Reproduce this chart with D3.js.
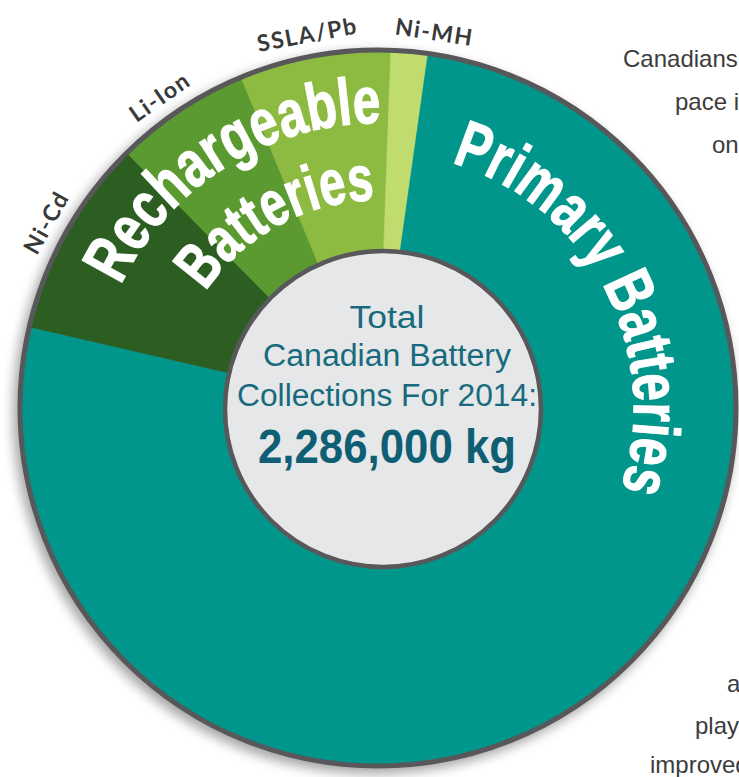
<!DOCTYPE html>
<html>
<head>
<meta charset="utf-8">
<script src="https://cdn.jsdelivr.net/npm/d3@7"></script>
<style>
  html, body { margin: 0; padding: 0; background: #ffffff; overflow: hidden; }
  svg { display: block; }
</style>
</head>
<body>
<svg id="chart" width="739" height="777"></svg>
<script>
// ---- data ----
const categories = ["Ni-Cd", "Li-Ion", "SSLA/Pb", "Ni-MH", "Primary"];
const valuesKg   = [206000, 140000, 156000, 38000, 1746000];
const groupNames = ["Rechargeable", "Batteries", "Primary Batteries"];
const centerLines = ["Total", "Canadian Battery", "Collections For 2014:"];
const totalLabel = "2,286,000 kg";
const sideText = ["Canadians", "pace is", "one", "a", "play", "improved"];

// ---- styles ----
const colors = ["#2c5e22", "#5b9a31", "#8dba41", "#c0dc6f", "#00968b"];
const cx = 378, cy = 408;
const rOuter = 358, rInner = 158;
const deg = Math.PI / 180;

const svg = d3.select("#chart");
const defs = svg.append("defs");
const f = defs.append("filter").attr("id", "shadow")
  .attr("x", "-20%").attr("y", "-20%").attr("width", "140%").attr("height", "140%");
f.append("feGaussianBlur").attr("stdDeviation", 6);

const g = svg.append("g").attr("transform", `translate(${cx},${cy})`);

// shadow
g.append("circle").attr("cx", -4).attr("cy", 5).attr("r", rOuter + 3)
  .attr("fill", "#000").attr("opacity", 0.35).attr("filter", "url(#shadow)");

const pie = d3.pie().sort(null).value(d => d)
  .startAngle(-77 * deg).endAngle(283 * deg);
const slices = pie(valuesKg);
const arc = d3.arc().innerRadius(rInner - 10).outerRadius(rOuter);

g.selectAll("path.slice").data(slices).join("path")
  .attr("class", "slice")
  .attr("d", arc)
  .attr("fill", (d, i) => colors[i])
  .attr("stroke", (d, i) => colors[i])
  .attr("stroke-width", 0.6);

// outer ring stroke
g.append("circle").attr("r", rOuter).attr("fill", "none")
  .attr("stroke", "#58585a").attr("stroke-width", 5);

// inner disc (slightly offset like the original artwork)
const ix = 5, iy = 1;
g.append("circle").attr("cx", ix).attr("cy", iy).attr("r", rInner)
  .attr("fill", "#e6e7e9")
  .attr("stroke", "#58585a").attr("stroke-width", 4.5);

// helper: clockwise arc path around the center
function arcPath(r, a0, a1) {
  const x0 = r * Math.sin(a0), y0 = -r * Math.cos(a0);
  const x1 = r * Math.sin(a1), y1 = -r * Math.cos(a1);
  const large = (a1 - a0) > Math.PI ? 1 : 0;
  return `M${x0},${y0} A${r},${r} 0 ${large} 1 ${x1},${y1}`;
}

// category labels outside the ring
const labelNudge = [0, -1.5 * deg, -0.5 * deg, 3.5 * deg];
slices.slice(0, 4).forEach((s, i) => {
  const a = (s.startAngle + s.endAngle) / 2 + labelNudge[i];
  const r = 372;
  g.append("text")
    .attr("transform", `translate(${r * Math.sin(a)},${-r * Math.cos(a)}) rotate(${a / deg})`)
    .attr("text-anchor", "middle")
    .attr("font-family", "Lato, 'DejaVu Sans', sans-serif")
    .attr("font-weight", 700)
    .attr("font-size", 23)
    .attr("letter-spacing", 1.5)
    .attr("fill", "#3a3a3a")
    .text(categories[i]);
});

// group titles along arcs
const rechStart = slices[0].startAngle, rechEnd = slices[3].endAngle;
const rechMid = (rechStart + rechEnd) / 2;
const primStart = slices[4].startAngle;
const groupDefs = [
  { text: groupNames[0], r: 285, center: rechMid + 2.5 * deg, len: 324, size: 66 },
  { text: groupNames[1], r: 208, center: rechMid + 6 * deg, len: 200, size: 64 },
  { text: groupNames[2], r: 256, center: primStart + 54.5 * deg, len: 410, size: 66 }
];
groupDefs.forEach((d, i) => {
  defs.append("path").attr("id", "gp" + i)
    .attr("d", arcPath(d.r, d.center - 90 * deg, d.center + 90 * deg));
  g.append("text")
    .attr("font-family", "'Liberation Sans', Arial, sans-serif")
    .attr("font-weight", 700)
    .attr("font-size", d.size)
    .attr("fill", "#ffffff")
    .attr("stroke", "#ffffff")
    .attr("stroke-width", 1.2)
    .append("textPath")
    .attr("href", "#gp" + i)
    .attr("startOffset", "50%")
    .attr("text-anchor", "middle")
    .attr("textLength", d.len)
    .attr("lengthAdjust", "spacingAndGlyphs")
    .text(d.text);
});

// center text
const ctx = 9;
const lineY = [-80, -42, -2];
const lineLen = [75, 248, 300];
centerLines.forEach((t, i) => {
  g.append("text")
    .attr("x", ctx).attr("y", lineY[i])
    .attr("text-anchor", "middle")
    .attr("font-family", "'Liberation Sans', Arial, sans-serif")
    .attr("font-size", 31)
    .attr("fill", "#176b7d")
    .attr("textLength", lineLen[i])
    .attr("lengthAdjust", "spacingAndGlyphs")
    .text(t);
});
g.append("text")
  .attr("x", ctx).attr("y", 55)
  .attr("text-anchor", "middle")
  .attr("font-family", "'Liberation Sans', Arial, sans-serif")
  .attr("font-weight", 700)
  .attr("font-size", 48)
  .attr("fill", "#0f5f74")
  .attr("textLength", 258)
  .attr("lengthAdjust", "spacingAndGlyphs")
  .text(totalLabel);

// clipped paragraph text on the right
const sidePos = [[623, 67], [675, 110], [712, 153], [727, 692], [695, 734], [650, 773]];
sideText.forEach((t, i) => {
  svg.append("text")
    .attr("x", sidePos[i][0]).attr("y", sidePos[i][1])
    .attr("font-family", "'Liberation Sans', Arial, sans-serif")
    .attr("font-size", 24)
    .attr("fill", "#3c3c3c")
    .text(t);
});
</script>
</body>
</html>
